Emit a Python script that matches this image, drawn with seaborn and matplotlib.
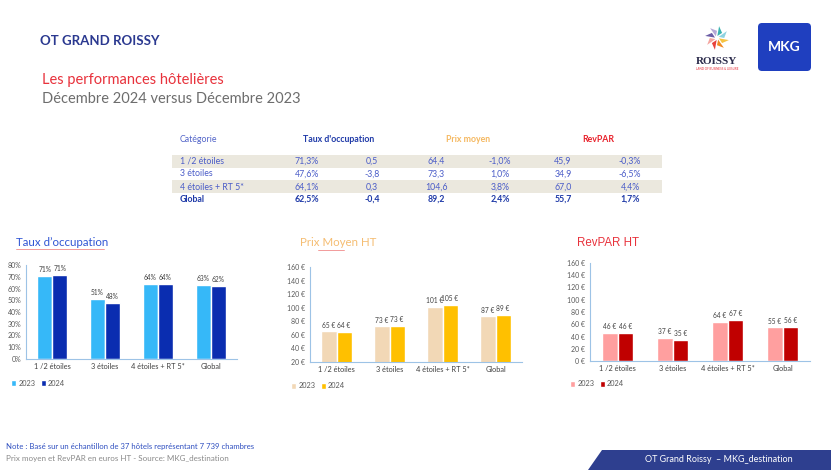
import numpy as np
import pandas as pd
import seaborn as sns
import matplotlib.pyplot as plt
from matplotlib.patches import Rectangle, Polygon, FancyBboxPatch
from matplotlib.ticker import FuncFormatter, FixedLocator

W, H = 831, 470

categories = ['1 /2 étoiles', '3 étoiles', '4 étoiles + RT 5*', 'Global']
years = ['2023', '2024']

# Taux d'occupation (share)
occ_2023 = [0.708, 0.514, 0.638, 0.629]
occ_2024 = [0.713, 0.476, 0.641, 0.624]
# Prix moyen HT (€)
prix_2023 = [65.1, 72.6, 100.8, 87.1]
prix_2024 = [64.4, 73.3, 104.6, 89.2]
# RevPAR HT (€)
revpar_2023 = [46.0, 37.3, 64.2, 54.8]
revpar_2024 = [45.9, 34.9, 67.0, 55.7]

# summary table
table_rows = ['1 /2 étoiles', '3 étoiles', '4 étoiles + RT 5*', 'Global']
tab_occ = ['71,3%', '47,6%', '64,1%', '62,5%']
tab_occ_var = ['0,5', '-3,8', '0,3', '-0,4']
tab_prix = ['64,4', '73,3', '104,6', '89,2']
tab_prix_var = ['-1,0%', '1,0%', '3,8%', '2,4%']
tab_rev = ['45,9', '34,9', '67,0', '55,7']
tab_rev_var = ['-0,3%', '-6,5%', '4,4%', '1,7%']

sns.set_theme(style='white')
plt.rcParams['font.family'] = ['Lato', 'DejaVu Sans']

fig = plt.figure(figsize=(W / 100, H / 100), dpi=100)
fig.patch.set_facecolor('white')

# overlay in pixel coordinates for slide decorations
ov = fig.add_axes([0, 0, 1, 1])
ov.set_xlim(0, W)
ov.set_ylim(H, 0)
ov.axis('off')
ov.set_zorder(0)


def make_df(v23, v24):
    return pd.DataFrame({
        'cat': categories * 2,
        'year': ['2023'] * 4 + ['2024'] * 4,
        'val': list(v23) + list(v24),
    })


def bar_chart(rect, v23, v24, colors, ylim, yticks, fmt, label_fmt, legend_xy, spine='#9dc3e6'):
    l, r, b, t = rect
    ax = fig.add_axes([l / W, 1 - b / H, (r - l) / W, (b - t) / H])
    ax.set_zorder(1)
    ax.set_facecolor('none')
    df = make_df(v23, v24)
    sns.barplot(data=df, x='cat', y='val', hue='year', order=categories, hue_order=years,
                palette=colors, width=0.57, saturation=1, ax=ax, errorbar=None)
    for cont, vals in zip(ax.containers, [v23, v24]):
        ax.bar_label(cont, labels=[label_fmt(v) for v in vals], fontsize=4.8,
                     color='#404040', padding=2)
    ax.set_ylim(*ylim)
    ax.set_yticks(yticks)
    ax.yaxis.set_major_formatter(FuncFormatter(fmt))
    ax.set_xlim(-0.5, 3.5)
    ax.set_xlabel('')
    ax.set_ylabel('')
    for s in ['top', 'right']:
        ax.spines[s].set_visible(False)
    for s in ['left', 'bottom']:
        ax.spines[s].set_color(spine)
        ax.spines[s].set_linewidth(0.8)
    ax.tick_params(axis='y', labelsize=5, colors='#595959', length=2, width=0.6, pad=1.5)
    ax.tick_params(axis='y', color=spine)
    ax.tick_params(axis='x', labelsize=5.3, colors='#404040', length=0, pad=3)
    ax.xaxis.set_minor_locator(FixedLocator([-0.5, 0.5, 1.5, 2.5, 3.5]))
    ax.tick_params(axis='x', which='minor', length=2.5, width=0.6, color=spine)
    sns.move_legend(ax, 'center left', bbox_to_anchor=legend_xy, bbox_transform=ov.transData,
                    ncol=2, title=None, frameon=False, fontsize=5.3, handlelength=0.7,
                    handleheight=0.7, handletextpad=0.3, columnspacing=0.7, borderpad=0,
                    borderaxespad=0)
    for txt in ax.get_legend().get_texts():
        txt.set_color('#595959')
    return ax


bar_chart((26, 237, 359, 265), occ_2023, occ_2024, ['#36b8f8', '#0a2db0'], (0, 0.8),
          np.arange(0, 0.81, 0.1), lambda v, p: f'{v * 100:.0f}%',
          lambda v: f'{v * 100:.0f}%', (11, 383))
bar_chart((310, 522, 362, 267), prix_2023, prix_2024, ['#f2d8b6', '#ffc000'], (20, 160),
          np.arange(20, 161, 20), lambda v, p: f'{v:.0f} €',
          lambda v: f'{v:.0f} €', (291, 386))
bar_chart((590, 810, 361, 263), revpar_2023, revpar_2024, ['#ff9f9f', '#c00000'], (0, 160),
          np.arange(0, 161, 20), lambda v, p: f'{v:.0f} €',
          lambda v: f'{v:.0f} €', (570, 384))

# chart titles
ov.text(16, 242, "Taux d\u2019occupation", fontsize=8.3, color='#2f55d4', va='center', ha='left')
ov.plot([16, 104], [248.5, 248.5], color='#f08a8a', lw=0.6)
ov.text(300, 243, 'Prix Moyen HT', fontsize=8.3, color='#f5bd72', va='center', ha='left')
ov.plot([318, 344], [249.5, 249.5], color='#f08a8a', lw=0.6)
ov.text(577, 243, 'RevPAR HT', fontsize=8.3, color='#e8323c', va='center', ha='left',
        family=['Liberation Sans', 'DejaVu Sans'])

# header
ov.text(40, 41, 'OT GRAND ROISSY', fontsize=9.5, fontweight='bold', color='#2b3990',
        va='center', ha='left')
ov.text(42, 80, 'Les performances hôtelières', fontsize=10.5, color='#e8323c',
        va='center', ha='left')
ov.text(42, 99, 'Décembre 2024 versus Décembre 2023', fontsize=10.5, color='#6d6d6d',
        va='center', ha='left')

# Roissy logo: pinwheel + name
cx, cy, rr = 717, 38, 12
blade_colors = ['#f6c342', '#f08a24', '#e8423c', '#f4a6a0', '#6b5ca5', '#b5a8d6', '#3bb3b0', '#8fd3e0']
for k, c in enumerate(blade_colors):
    a = np.deg2rad(k * 45 + 10)
    b2 = a + np.deg2rad(35)
    pts = [(cx + 2 * np.cos(a), cy + 2 * np.sin(a)),
           (cx + rr * np.cos(a), cy + rr * np.sin(a)),
           (cx + rr * 0.6 * np.cos(b2), cy + rr * 0.6 * np.sin(b2))]
    ov.add_patch(Polygon(pts, closed=True, color=c, lw=0))
ov.text(717, 61, 'ROISSY', fontsize=8, fontweight='bold', color='#2b2b4b', ha='center',
        va='center', family=['Liberation Serif', 'DejaVu Serif'])
ov.text(717, 69, 'LAND OF BUSINESS & LEISURE', fontsize=2.2, color='#e8323c', ha='center',
        va='center')

# MKG logo
ov.add_patch(FancyBboxPatch((758, 23), 53, 48, boxstyle='round,pad=0,rounding_size=4',
                            color='#1f3fbf', lw=0))
ov.text(784, 47, 'MKG', fontsize=10, fontweight='bold', color='white', ha='center', va='center')

# table
col_x = [307, 372, 436, 500, 563, 630]
row_y = [161, 174, 187, 199]
for y0 in [155, 180]:
    ov.add_patch(Rectangle((172, y0), 490, 13, color='#ebe8de', lw=0))
ov.text(180, 140, 'Catégorie', fontsize=6.3, color='#5264c8', va='center', ha='left')
ov.text(339, 140, "Taux d'occupation", fontsize=6.3, fontweight='bold', color='#1f3aa8',
        va='center', ha='center')
ov.text(468, 140, 'Prix moyen', fontsize=6.3, fontweight='bold', color='#f5b860',
        va='center', ha='center')
ov.text(598, 140, 'RevPAR', fontsize=6.3, fontweight='bold', color='#e8202a',
        va='center', ha='center')
cols = [tab_occ, tab_occ_var, tab_prix, tab_prix_var, tab_rev, tab_rev_var]
for i, (name, y) in enumerate(zip(table_rows, row_y)):
    is_total = name == 'Global'
    color = '#1f3aa8' if is_total else '#4a5cc8'
    weight = 'bold' if is_total else 'normal'
    ov.text(180, y, name, fontsize=6.3, color=color, fontweight=weight, va='center', ha='left')
    for x, col in zip(col_x, cols):
        ov.text(x, y, col[i], fontsize=6.3, color=color, fontweight=weight,
                va='center', ha='center')

# notes
ov.text(6, 447, 'Note : Basé sur un échantillon de 37 hôtels représentant 7 739 chambres',
        fontsize=5.6, color='#2f4fc0', va='center', ha='left')
ov.text(6, 459, 'Prix moyen et RevPAR en euros HT - Source: MKG_destination',
        fontsize=5.8, color='#8a8a8a', va='center', ha='left')

# footer band
ov.add_patch(Polygon([(588, 470), (602, 450), (831, 450), (831, 470)], closed=True,
                     color='#2e3f8f', lw=0))
ov.text(645, 460, 'OT Grand Roissy  \u2013 MKG_destination', fontsize=6.5, color='white',
        va='center', ha='left')

fig.savefig('out.png', dpi=100)
